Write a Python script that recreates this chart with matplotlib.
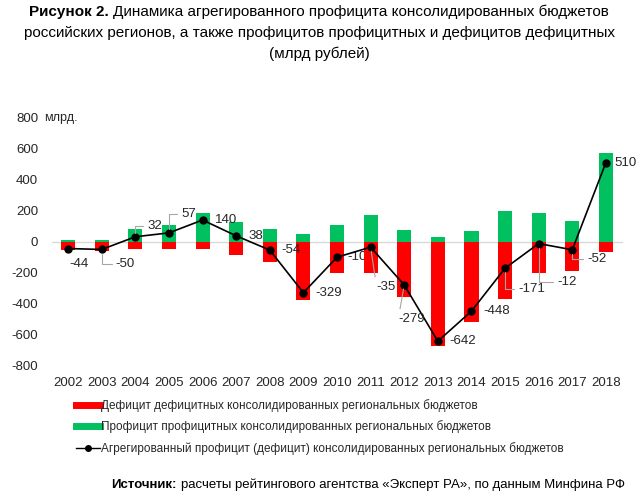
import numpy as np
import matplotlib
matplotlib.use("Agg")
import matplotlib.pyplot as plt
from matplotlib.lines import Line2D

plt.rcParams['font.family'] = ['Liberation Sans', 'DejaVu Sans']

years = ['2002', '2003', '2004', '2005', '2006', '2007', '2008', '2009', '2010',
         '2011', '2012', '2013', '2014', '2015', '2016', '2017', '2018']
# дефицит дефицитных бюджетов (красные столбцы)
deficit = [-54, -63, -48, -48, -48, -87, -134, -377, -205, -205, -357, -670, -520,
           -370, -200, -187, -65]
# профицит профицитных бюджетов (зелёные столбцы)
surplus = [9, 13, 80, 105, 188, 125, 80, 48, 105, 170, 78, 28, 72, 198, 188, 135, 575]
# агрегированный профицит (дефицит)
total = [-44, -50, 32, 57, 140, 38, -54, -329, -100, -35, -279, -642, -448, -171, -12, -52, 510]

# смещения подписей (пиксели) и тип выноски
label_off = [(1, -15), (14, -15), (12, 11), (12, 19), (12, 0), (12, 0), (12, 0), (12, 0),
             (10, 0), (6, -40), (-6, -34), (12, 0), (12, 0), (13, -21), (19, -38),
             (15, -9), (9, 0)]
leader = [None, 'angle', 'angle', 'angle', None, None, None, None, None, 'line', 'line',
          None, None, 'angle', 'angle', 'angle', None]

RED = '#FF0000'
GREEN = '#00C060'
TXT = '#262626'

fig = plt.figure(figsize=(6.38, 4.94), dpi=100)
ax = fig.add_axes([0.0815, 0.2597, 0.8945, 0.502])

x = np.arange(len(years))
ax.bar(x, deficit, width=0.42, color=RED, zorder=3)
ax.bar(x, surplus, width=0.42, color=GREEN, zorder=3)
ax.plot(x, total, color='black', lw=1.2, marker='o', ms=5, zorder=5)
ax.axhline(0, color='#d9d9d9', lw=1, zorder=1)

for i, v in enumerate(total):
    dx, dy = label_off[i]
    z = 2 if years[i] == '2010' else 6  # подпись 2010 частично закрыта столбцом
    if leader[i] is None:
        ax.annotate(str(v), (x[i], v), xytext=(dx, dy), textcoords='offset pixels',
                    ha='left', va='center', fontsize=9.5, color=TXT, zorder=z)
    else:
        cs = 'angle,angleA=0,angleB=90,rad=0' if leader[i] == 'angle' else 'arc3'
        ax.annotate(str(v), (x[i], v), xytext=(dx, dy), textcoords='offset pixels',
                    ha='left', va='center', fontsize=9.5, color=TXT, zorder=z,
                    arrowprops=dict(arrowstyle='-', color='#a6a6a6', lw=0.8,
                                    shrinkA=1, shrinkB=3, relpos=(0, 0.5),
                                    connectionstyle=cs))

ax.set_xlim(-0.48, 16.5)
ax.set_ylim(-800, 800)
ax.set_xticks(x)
ax.set_xticklabels(years, fontsize=9.5, color=TXT)
yt = np.arange(-800, 801, 200)
ax.set_yticks(yt)
ax.set_yticklabels([str(v) for v in yt], fontsize=9.5, color=TXT)
ax.tick_params(length=0, axis='y', pad=10)
ax.tick_params(length=0, axis='x', pad=8)
for s in ax.spines.values():
    s.set_visible(False)
fig.text(44 / 638, 1 - 117.7 / 494, 'млрд.', fontsize=9, color=TXT, va='center')

# легенда
handles = [Line2D([], [], color=RED, lw=5),
           Line2D([], [], color=GREEN, lw=5),
           Line2D([], [], color='black', lw=1, marker='o', ms=4)]
names = ['Дефицит дефицитных консолидированных региональных бюджетов',
         'Профицит профицитных консолидированных региональных бюджетов',
         'Агрегированный профицит (дефицит) консолидированных региональных бюджетов']
fig.legend(handles, names, loc='upper left', bbox_to_anchor=(76 / 638, 1 - 399 / 494),
           frameon=False, fontsize=8.5, handlelength=2.0, handletextpad=0.15,
           labelspacing=0.72, borderaxespad=0, borderpad=0, labelcolor=TXT)

# заголовок и источник: жирная часть + обычная
fig.canvas.draw()
r = fig.canvas.get_renderer()


def mixed_line(bold, rest, y, size, center=None, right=None):
    t1 = fig.text(0, y, bold, fontsize=size, fontweight='bold', va='center')
    t2 = fig.text(0, y, rest, fontsize=size, va='center')
    w1 = t1.get_window_extent(r).width / fig.bbox.width
    w2 = t2.get_window_extent(r).width / fig.bbox.width
    sp = 4 / fig.bbox.width
    if center is not None:
        x0 = center - (w1 + sp + w2) / 2
    else:
        x0 = right - (w1 + sp + w2)
    t1.set_x(x0)
    t2.set_x(x0 + w1 + sp)


mixed_line('Рисунок 2.', 'Динамика агрегированного профицита консолидированных бюджетов',
           1 - 12 / 494, 11, center=0.5)
fig.text(0.5, 1 - 33 / 494,
         'российских регионов, а также профицитов профицитных и дефицитов дефицитных',
         fontsize=11, ha='center', va='center')
fig.text(0.5, 1 - 54 / 494, '(млрд рублей)', fontsize=11, ha='center', va='center')

mixed_line('Источник:', 'расчеты рейтингового агентства «Эксперт РА», по данным Минфина РФ',
           1 - 485 / 494, 9.5, right=625 / 638)

fig.savefig('out.png', dpi=100)
